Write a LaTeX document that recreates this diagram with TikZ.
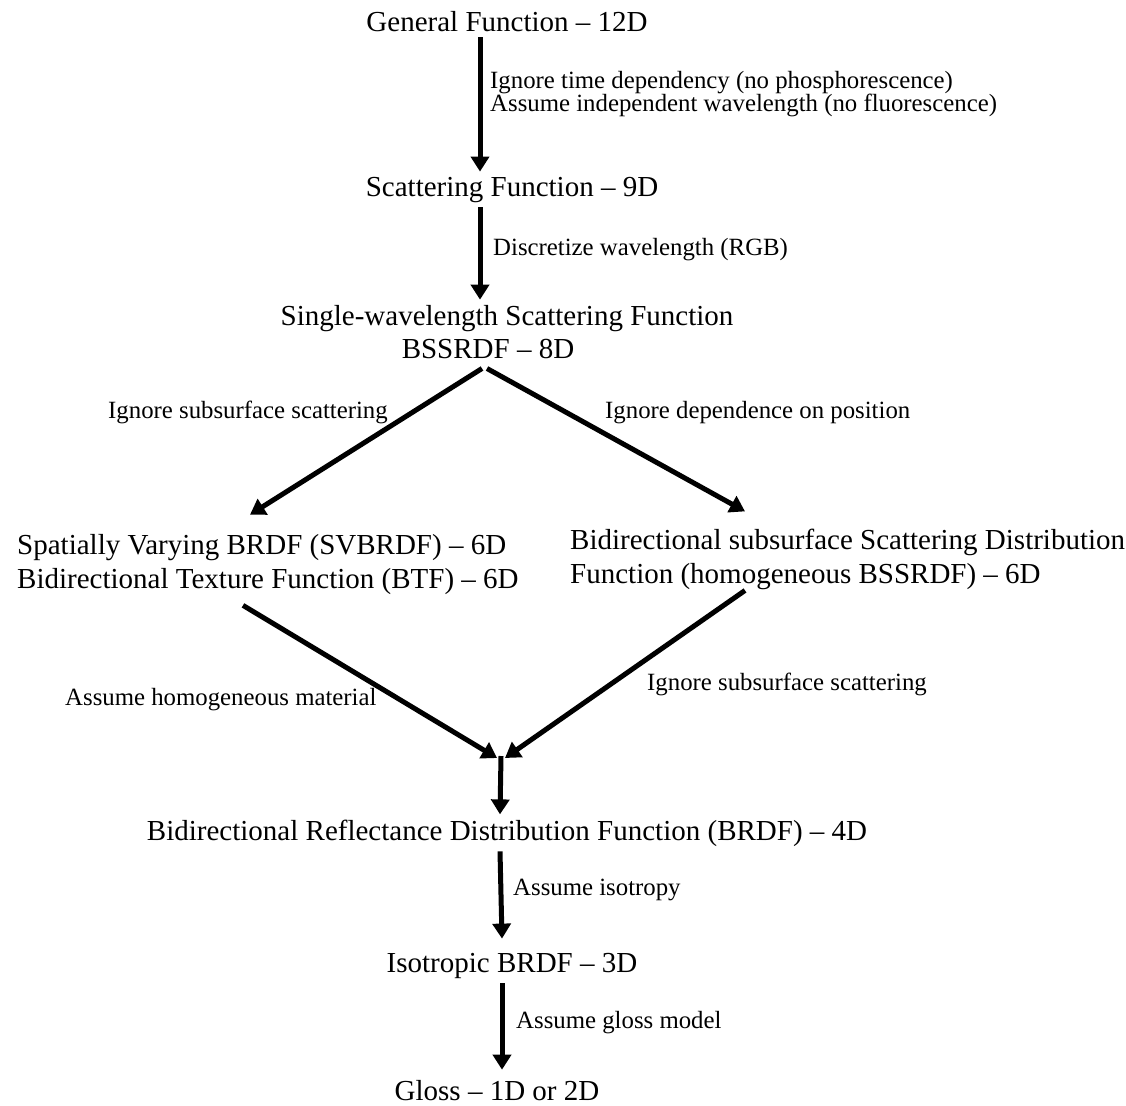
\documentclass[tikz,border=0pt]{standalone}
\usepackage{fontspec}
\setmainfont{Liberation Serif}
\usetikzlibrary{arrows.meta, positioning, calc}

\begin{document}
\begin{tikzpicture}[x=1pt, y=-1pt,
    stage/.style={font=\fontsize{29}{34}\selectfont, inner sep=5pt, anchor=base},
    lab/.style={font=\fontsize{24.8}{24}\selectfont, inner sep=0pt, anchor=base west, align=left},
    flow/.style={-{Triangle[length=15pt, width=18pt]}, line width=5pt}]
    \useasboundingbox (0,0) rectangle (1126,1105);
    % stages
    \node[stage] (gen) at (507,32) {General Function – 12D};
    \node[stage] (scat) at (512,196) {Scattering Function – 9D};
    \node[stage] (sws) at (507,325) {Single-wavelength Scattering Function};
    \node[stage] (bss) at (488,358) {BSSRDF – 8D};
    \node[stage, anchor=base west, align=left] (svb) at (12,588) {Spatially Varying BRDF (SVBRDF) – 6D\\Bidirectional Texture Function (BTF) – 6D};
    \node[stage, anchor=base west, align=left] (bsd) at (565,583) {Bidirectional subsurface Scattering Distribution\\Function (homogeneous BSSRDF) – 6D};
    \node[stage] (brdf) at (507,840) {Bidirectional Reflectance Distribution Function (BRDF) – 4D};
    \node[stage] (iso) at (512,972) {Isotropic BRDF – 3D};
    \node[stage] (gloss) at (497,1100) {Gloss – 1D or 2D};
    \coordinate (join) at (501,758);
    % arrows
    \draw[flow] ([xshift=-27pt]gen.south) -- ([xshift=-32pt]scat.north);
    \draw[flow] ([xshift=-32pt]scat.south) -- ([xshift=-27pt]sws.north);
    \draw[flow] ([xshift=-6pt,yshift=-5pt]bss.south) -- ([xshift=238pt,yshift=14pt]svb.north west);
    \draw[flow] ([xshift=-1pt,yshift=-5pt]bss.south) -- ([xshift=180pt,yshift=12pt]bsd.north west);
    \draw[flow] ([xshift=231pt,yshift=-6pt]svb.south west) -- ([xshift=-4pt]join);
    \draw[flow] ([xshift=180pt,yshift=4pt]bsd.south west) -- ([xshift=4pt]join);
    \draw[flow] ([yshift=2pt]join) -- ([xshift=-7pt]brdf.north);
    \draw[flow] ([xshift=-7pt]brdf.south) -- ([xshift=-10pt,yshift=9pt]iso.north);
    \draw[flow] ([xshift=-10pt]iso.south) -- ([xshift=5pt,yshift=5pt]gloss.north);
    % labels
    \node[lab] (l1) at (490,112) {Ignore time dependency (no phosphorescence)\\Assume independent wavelength (no fluorescence)};
    \node[lab] (l2) at (493,255) {Discretize wavelength (RGB)};
    \node[lab] (l3) at (108,418) {Ignore subsurface scattering};
    \node[lab] (l4) at (605,418) {Ignore dependence on position};
    \node[lab] (l5) at (65,705) {Assume homogeneous material};
    \node[lab] (l6) at (647,690) {Ignore subsurface scattering};
    \node[lab] (l7) at (513,895) {Assume isotropy};
    \node[lab] (l8) at (516,1028) {Assume gloss model};
\end{tikzpicture}
\end{document}
